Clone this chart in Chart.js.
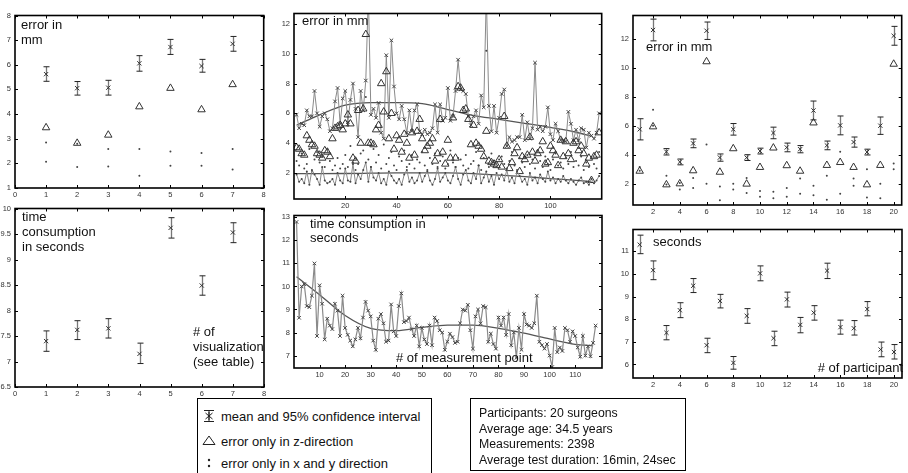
<!DOCTYPE html>
<html lang="en">
<head>
<meta charset="utf-8">
<script src="https://cdn.jsdelivr.net/npm/chart.js@4.4.0/dist/chart.umd.min.js"></script>
<style>
  body { margin:0; width:908px; height:473px; background:#fff; position:relative; overflow:hidden;
         font-family:"Liberation Sans", Arial, sans-serif; }
  canvas { position:absolute; }
  .note { position:absolute; font-size:13px; line-height:15px; color:#111; white-space:nowrap; }
  .box { position:absolute; border:1px solid #000; background:#fff; font-size:12.5px; color:#111; white-space:nowrap; }
  .box .row { position:absolute; left:0; }
  .box svg { position:absolute; }
</style>
</head>
<body>

<canvas id="c1"></canvas>
<canvas id="c2"></canvas>
<canvas id="c3"></canvas>
<canvas id="c4"></canvas>
<canvas id="c5"></canvas>
<canvas id="c6"></canvas>

<div class="note" style="left:21px;top:17px;">error in<br>mm</div>
<div class="note" style="left:22px;top:209px;">time<br>consumption<br>in seconds</div>
<div class="note" style="left:193px;top:324px;"># of<br>visualization<br>(see table)</div>
<div class="note" style="left:302px;top:13px;">error in mm</div>
<div class="note" style="left:310px;top:217px;line-height:14px;">time consumption in<br>seconds</div>
<div class="note" style="left:396px;top:350px;"># of measurement point</div>
<div class="note" style="left:646px;top:39px;">error in mm</div>
<div class="note" style="left:653px;top:234px;">seconds</div>
<div class="note" style="left:800px;top:360px;width:103px;text-align:right;"># of participant</div>

<div class="box" style="left:197px;top:398px;width:233px;height:80px;">
  <svg style="left:4px;top:10px;" width="14" height="14"><path d="M2 1.5H12M2 12.5H12M7 1.5V12.5M3.5 4L10.5 10M10.5 4L3.5 10M7 3V11" stroke="#222" stroke-width="1" fill="none"/></svg>
  <div class="row" style="left:23px;top:10px;font-size:13px;">mean and 95% confidence interval</div>
  <svg style="left:4px;top:35px;" width="14" height="12"><path d="M1 10.5H13L7 2Z" stroke="#222" stroke-width="1" fill="none"/></svg>
  <div class="row" style="left:23px;top:35px;font-size:13px;">error only in z-direction</div>
  <svg style="left:4px;top:57px;" width="14" height="14"><circle cx="7" cy="4" r="1.2" fill="#222"/><circle cx="7" cy="10" r="1.2" fill="#222"/></svg>
  <div class="row" style="left:23px;top:57px;font-size:13px;">error only in x and y direction</div>
</div>

<div class="box" style="left:470px;top:398px;width:214px;height:71px;">
  <div class="row" style="left:8px;top:7px;line-height:15.5px;font-size:12.3px;">Participants: 20 surgeons<br>Average age: 34.5 years<br>Measurements: 2398<br>Average test duration: 16min, 24sec</div>
</div>

<script>
// ---- panel 1 / 2 : per visualization ----
var visNo = [1, 2, 3, 4, 5, 6, 7];
var visErrMean = [5.62, 5.05, 5.07, 6.06, 6.72, 5.95, 6.85];
var visErrLo   = [5.33, 4.77, 4.77, 5.74, 6.42, 5.70, 6.55];
var visErrHi   = [5.92, 5.32, 5.37, 6.37, 7.03, 6.22, 7.15];
var visErrZ    = [3.45, 2.82, 3.15, 4.30, 5.05, 4.18, 5.20];
var visErrX    = [2.85, 2.80, 2.58, 2.58, 2.48, 2.42, 2.58];
var visErrY    = [2.07, 1.85, 1.87, 1.50, 1.90, 1.90, 1.75];
var visTimeMean = [7.40, 7.62, 7.65, 7.15, 9.62, 8.49, 9.53];
var visTimeLo   = [7.20, 7.43, 7.46, 6.96, 9.42, 8.30, 9.33];
var visTimeHi   = [7.60, 7.80, 7.84, 7.36, 9.82, 8.68, 9.72];

// ---- panel 3 / 4 : per measurement point ----
var measErrMean = [5.9,5.0,5.3,5.2,6.2,5.8,5.8,7.5,6.0,5.1,
  5.8,6.0,5.6,4.8,5.0,6.8,7.7,5.3,7.0,7.5,
  5.4,6.9,8.0,6.3,4.4,7.5,6.2,8.2,14.0,5.9,
  6.3,5.7,6.7,4.7,4.3,9.9,5.7,10.9,7.8,6.0,
  5.6,6.5,5.6,4.7,6.2,4.8,6.2,6.6,4.8,4.6,
  4.9,4.6,4.7,5.0,6.6,4.7,6.6,5.5,5.7,7.7,
  5.5,5.8,7.5,9.6,7.6,7.5,7.3,5.8,5.2,5.8,
  6.2,5.3,7.2,6.4,14.0,6.5,4.8,6.5,4.7,5.7,
  7.3,7.6,3.8,4.4,4.1,4.2,4.4,4.4,5.9,4.2,
  5.4,4.3,5.0,9.4,4.9,5.1,4.8,5.1,6.4,4.6,
  4.2,5.3,4.8,4.2,4.2,4.1,6.1,5.3,4.2,4.9,
  4.2,5.0,4.9,3.7,4.7,4.5,4.3,4.7,6.0];
var measErrZ = [3.7,3.6,3.3,3.2,4.5,4.2,3.9,3.8,3.3,3.2,
  3.0,3.5,3.4,3.1,4.3,5.0,5.1,5.2,4.9,5.3,
  5.9,5.3,3.0,2.8,6.2,4.0,6.3,11.3,4.0,4.0,
  3.9,4.9,5.2,8.0,6.1,8.8,4.3,6.0,3.6,4.5,
  4.2,3.4,4.6,4.0,3.0,4.7,3.2,4.8,5.6,4.3,
  3.5,3.8,4.0,4.3,2.8,3.3,5.6,3.4,2.6,4.2,
  3.0,5.7,3.0,7.8,7.7,6.2,6.3,5.6,3.9,5.2,
  4.0,3.8,3.6,3.1,4.8,2.8,2.7,2.6,2.5,2.9,
  2.4,5.8,3.8,2.3,2.7,3.3,3.7,2.1,3.1,2.9,
  3.2,4.4,3.4,2.8,3.3,3.5,4.1,2.6,2.7,3.8,
  3.5,3.2,2.5,4.2,3.1,4.1,3.3,2.9,4.0,4.1,
  3.5,3.8,3.3,2.6,3.0,1.5,3.1,3.2,4.7];
var measErrX = [2.8,2.5,3.3,2.3,2.6,3.6,2.1,2.9,3.4,2.7,
  3.1,2.4,3.6,2.8,2.2,2.5,3.0,2.3,2.6,3.2,
  2.4,3.8,2.7,2.2,2.6,3.3,3.5,7.1,2.9,2.4,
  3.6,2.7,3.2,2.3,3.9,2.6,3.0,3.4,2.5,2.2,
  3.1,2.8,3.5,2.4,2.6,3.2,2.3,2.9,2.7,3.4,
  2.5,2.2,3.0,2.6,3.3,2.4,2.8,3.1,2.3,2.6,
  3.5,2.7,2.4,3.0,2.9,2.5,3.2,2.3,2.6,2.8,
  3.4,2.5,2.2,3.0,10.2,2.4,3.3,2.7,2.4,2.9,
  3.1,2.6,2.3,2.8,3.4,2.5,2.2,3.0,2.7,2.4,
  3.2,2.6,2.9,2.3,3.5,2.8,2.4,3.1,2.6,2.2,
  2.9,3.3,2.5,2.7,2.3,3.0,2.6,3.4,2.4,2.8,
  2.5,3.1,2.2,2.7,2.4,3.0,2.6,2.3,3.4];
var measErrY = [1.9,1.4,1.6,1.3,2.1,1.2,2.2,1.9,1.6,1.2,
  2.4,1.5,1.3,1.4,1.6,1.2,2.0,1.5,1.3,2.3,
  1.5,1.4,2.6,1.3,1.9,1.6,2.2,2.7,1.4,2.4,
  1.7,1.5,2.0,1.3,1.6,1.2,2.1,1.8,1.5,1.3,
  1.6,1.2,1.9,2.2,1.4,1.7,1.3,1.5,2.0,1.4,
  1.8,2.1,1.5,1.2,1.6,2.3,1.4,1.7,2.0,1.5,
  1.3,1.8,2.4,1.6,1.2,1.9,2.2,1.5,1.3,2.0,
  1.6,2.5,1.3,1.7,2.1,1.4,1.8,1.2,2.0,1.6,
  1.9,1.5,2.2,1.4,1.7,1.3,2.1,1.8,1.4,1.6,
  1.2,2.0,1.5,1.7,1.3,1.9,1.6,1.4,2.1,1.5,
  1.7,1.3,1.6,1.4,1.8,1.5,1.3,1.6,1.4,1.2,
  1.5,1.7,1.3,1.4,1.2,1.6,1.3,1.5,1.8];
var trendX = [1, 10, 20, 30, 40, 50, 60, 70, 80, 90, 100, 110, 116];
var trendErrMean = [5.2, 5.9, 6.55, 6.72, 6.72, 6.65, 6.25, 5.85, 5.6, 5.33, 5.05, 4.73, 4.45];
var trendErrY    = [1.95, 1.95, 1.96, 1.98, 2.0, 2.0, 2.0, 1.95, 1.85, 1.75, 1.62, 1.5, 1.42];

var measTime = [12.8,8.64,10.0,10.1,9.15,9.1,9.6,11.0,7.85,10.05,
  9.25,7.7,8.6,8.3,8.15,9.25,8.95,7.85,9.6,8.2,
  7.9,7.65,7.4,7.7,8.2,7.75,8.65,9.33,8.95,8.7,
  7.65,7.25,8.6,8.8,8.4,7.6,7.65,9.22,8.05,7.85,
  9.15,9.7,8.45,8.5,8.65,8.15,7.85,8.3,7.4,8.2,
  7.7,7.5,8.3,7.45,8.65,8.5,8.1,8.0,7.25,7.6,
  7.95,7.8,7.55,7.6,8.4,9.0,8.95,9.2,8.1,7.3,
  8.7,9.0,8.4,9.15,9.1,7.6,7.95,7.5,7.3,8.65,
  8.3,8.65,7.9,8.8,7.45,8.0,6.9,8.2,7.25,8.8,
  8.35,8.3,8.2,8.4,9.6,7.6,7.45,7.3,7.5,7.0,
  6.5,8.2,7.15,7.35,7.2,8.2,8.1,7.6,8.05,7.85,
  7.35,6.95,7.85,7.0,7.4,6.97,7.55,8.3];
var trendTimeX = [1, 10, 20, 30, 40, 50, 60, 70, 80, 90, 100, 110, 117];
var trendTime  = [10.42, 9.64, 8.74, 8.18, 8.08, 8.22, 8.32, 8.32, 8.18, 7.97, 7.72, 7.49, 7.42];

// ---- panel 5 / 6 : per participant ----
var partNo = [1,2,3,4,5,6,7,8,9,10,11,12,13,14,15,16,17,18,19,20];
var partErrMean = [5.75,12.6,4.2,3.5,4.78,12.55,3.8,5.75,3.8,4.25,5.5,4.5,4.38,7.05,4.64,6.02,4.87,4.18,6.0,12.2];
var partErrCI   = [0.73,0.75,0.22,0.2,0.3,0.6,0.25,0.4,0.2,0.2,0.4,0.3,0.25,0.65,0.3,0.65,0.35,0.2,0.6,0.65];
var partErrZ    = [2.87,5.93,1.93,2.0,2.9,10.42,2.8,4.42,1.98,3.13,4.47,3.25,2.87,6.2,3.27,3.47,3.13,1.93,3.27,10.25];
var partErrX    = [3.15,7.1,2.55,2.05,2.4,4.7,1.8,2.0,2.4,1.5,1.45,1.7,2.35,1.85,2.55,4.2,2.35,3.0,2.0,3.4];
var partErrY    = [2.9,6.0,1.95,1.6,1.7,2.0,0.85,1.6,1.35,1.1,1.0,1.1,1.3,1.2,0.9,1.3,1.85,1.05,1.0,3.0];
var partTimeMean = [11.3,10.17,7.4,8.4,9.48,6.85,8.81,6.07,8.15,10.03,7.16,8.88,7.75,8.29,10.15,7.65,7.6,8.45,6.66,6.55];
var partTimeLo   = [10.9,9.75,7.09,8.07,9.18,6.52,8.5,5.79,7.82,9.7,6.83,8.54,7.4,7.96,9.8,7.34,7.3,8.15,6.34,6.24];
var partTimeHi   = [11.72,10.58,7.72,8.73,9.8,7.16,9.1,6.35,8.47,10.36,7.47,9.2,8.08,8.6,10.48,7.96,7.94,8.78,6.99,6.88];

var measNo = measErrMean.map(function (v, i) { return i + 1; });
var measTimeNo = measTime.map(function (v, i) { return i + 1; });

function pts(xs, ys) {
  return ys.map(function (v, i) { return { x: xs[i], y: v }; });
}

// frame round the plot with matlab style inner ticks
var frameTicks = {
  id: 'frameTicks',
  afterDatasetsDraw: function (chart) {
    var ctx = chart.ctx, a = chart.chartArea, x = chart.scales.x, y = chart.scales.y;
    ctx.save();
    ctx.strokeStyle = '#000';
    ctx.lineWidth = 1;
    ctx.beginPath();
    x.ticks.forEach(function (t) {
      var px = Math.round(x.getPixelForValue(t.value)) + 0.5;
      ctx.moveTo(px, a.bottom); ctx.lineTo(px, a.bottom - 3);
      ctx.moveTo(px, a.top); ctx.lineTo(px, a.top + 3);
    });
    y.ticks.forEach(function (t) {
      var py = Math.round(y.getPixelForValue(t.value)) + 0.5;
      ctx.moveTo(a.left, py); ctx.lineTo(a.left + 3, py);
      ctx.moveTo(a.right, py); ctx.lineTo(a.right - 3, py);
    });
    ctx.stroke();
    ctx.lineWidth = 1.6;
    ctx.strokeRect(a.left, a.top, a.right - a.left, a.bottom - a.top);
    ctx.restore();
  }
};

// confidence intervals: errLo / errHi on the dataset
var errBars = {
  id: 'errBars',
  beforeDatasetsDraw: function (chart) {
    var ctx = chart.ctx, a = chart.chartArea, x = chart.scales.x, y = chart.scales.y;
    ctx.save();
    ctx.beginPath();
    ctx.rect(a.left, a.top, a.right - a.left, a.bottom - a.top);
    ctx.clip();
    chart.data.datasets.forEach(function (ds) {
      if (!ds.errLo) return;
      ds.data.forEach(function (p, i) {
        var px = Math.round(x.getPixelForValue(p.x)) + 0.5;
        var y1 = y.getPixelForValue(ds.errLo[i]);
        var y2 = y.getPixelForValue(ds.errHi[i]);
        ctx.strokeStyle = '#777';
        ctx.lineWidth = 1.3;
        ctx.beginPath();
        ctx.moveTo(px, y1); ctx.lineTo(px, y2);
        ctx.stroke();
        ctx.strokeStyle = '#222';
        ctx.lineWidth = 1;
        ctx.beginPath();
        ctx.moveTo(px - 3, y1); ctx.lineTo(px + 3, y1);
        ctx.moveTo(px - 3, y2); ctx.lineTo(px + 3, y2);
        ctx.stroke();
      });
    });
    ctx.restore();
  }
};

function tickLabel(v) { return String(+Number(v).toFixed(2)); }

function makePanel(id, f, lm, xs, ys, datasets) {
  var cv = document.getElementById(id);
  var w = (f.r - f.l) + lm + 2, h = (f.b - f.t) + 2 + 12;
  cv.width = w; cv.height = h;
  cv.style.left = (f.l - lm) + 'px';
  cv.style.top = (f.t - 2) + 'px';
  cv.style.width = w + 'px';
  cv.style.height = h + 'px';
  var tickFont = { family: '"Liberation Sans", Arial, sans-serif', size: 7.5 };
  var keep = function (lo, hi) {
    return function (s) { s.ticks = s.ticks.filter(function (t) { return t.value > lo && t.value < hi; }); };
  };
  return new Chart(cv.getContext('2d'), {
    type: 'scatter',
    data: { datasets: datasets },
    options: {
      responsive: false,
      animation: false,
      events: [],
      layout: { padding: { top: 2, right: 2, left: 0, bottom: 0 } },
      plugins: { legend: { display: false }, tooltip: { enabled: false } },
      scales: {
        x: {
          type: 'linear', min: xs.min, max: xs.max,
          grid: { display: false, drawTicks: false },
          border: { display: false },
          ticks: { stepSize: xs.step, font: tickFont, color: '#333', padding: 2, maxRotation: 0, autoSkip: false,
                   includeBounds: false, callback: tickLabel },
          afterBuildTicks: xs.keep ? keep(xs.keep[0], xs.keep[1]) : undefined,
          afterFit: function (s) { s.height = 12; }
        },
        y: {
          type: 'linear', min: ys.min, max: ys.max,
          grid: { display: false, drawTicks: false },
          border: { display: false },
          ticks: { stepSize: ys.step, font: tickFont, color: '#333', padding: 4, autoSkip: false,
                   includeBounds: false, callback: tickLabel },
          afterFit: function (s) { s.width = lm; }
        }
      }
    },
    plugins: [errBars, frameTicks]
  });
}

function meanSet(xs, ys, lo, hi, style) {
  return { data: pts(xs, ys), errLo: lo, errHi: hi, pointStyle: style || 'star', pointRadius: 3,
           borderColor: '#333', backgroundColor: '#333', pointBorderWidth: 1, showLine: false };
}
function triSet(xs, ys) {
  return { data: pts(xs, ys), pointStyle: 'triangle', pointRadius: 4.3, borderColor: '#333',
           backgroundColor: 'rgba(255,255,255,0)', pointBorderWidth: 1, showLine: false };
}
function dotSet(xs, ys) {
  return { data: pts(xs, ys), pointStyle: 'circle', pointRadius: 1, borderColor: '#444',
           backgroundColor: '#444', pointBorderWidth: 0, showLine: false };
}
function trendSet(xs, ys) {
  return { data: pts(xs, ys), showLine: true, pointRadius: 0, borderColor: '#555', borderWidth: 1.3,
           cubicInterpolationMode: 'monotone', fill: false };
}

var partLo = partErrMean.map(function (v, i) { return v - partErrCI[i]; });
var partHi = partErrMean.map(function (v, i) { return v + partErrCI[i]; });

makePanel('c1', { l: 15, t: 9, r: 267, b: 188 }, 15,
  { min: 0, max: 8, step: 1 }, { min: 1, max: 8, step: 1 },
  [meanSet(visNo, visErrMean, visErrLo, visErrHi, 'crossRot'), triSet(visNo, visErrZ), dotSet(visNo, visErrX), dotSet(visNo, visErrY)]);

makePanel('c2', { l: 15, t: 202, r: 267, b: 387 }, 15,
  { min: 0, max: 8, step: 1 }, { min: 6.5, max: 10, step: 0.5 },
  [meanSet(visNo, visTimeMean, visTimeLo, visTimeHi, 'crossRot')]);

makePanel('c3', { l: 294, t: 7, r: 605, b: 199 }, 16,
  { min: 0, max: 120, step: 20, keep: [1, 119] }, { min: 0.25, max: 12.7, step: 2 },
  [
    { data: pts(measNo, measErrY), showLine: true, borderColor: '#8a8a8a', borderWidth: 1,
      pointStyle: 'circle', pointRadius: 1, pointBackgroundColor: '#444', pointBorderWidth: 0 },
    dotSet(measNo, measErrX),
    triSet(measNo, measErrZ),
    { data: pts(measNo, measErrMean), showLine: true, borderColor: '#8a8a8a', borderWidth: 1,
      pointStyle: 'crossRot', pointRadius: 2.5, pointBorderColor: '#444', pointBorderWidth: 1 },
    trendSet(trendX, trendErrMean),
    trendSet(trendX, trendErrY)
  ]);

makePanel('c4', { l: 294, t: 209, r: 605, b: 368 }, 16,
  { min: 0, max: 120.5, step: 10, keep: [1, 119] }, { min: 6.46, max: 13.08, step: 1 },
  [
    { data: pts(measTimeNo, measTime), showLine: true, borderColor: '#8a8a8a', borderWidth: 1.2,
      pointStyle: 'crossRot', pointRadius: 2.5, pointBorderColor: '#444', pointBorderWidth: 1 },
    trendSet(trendTimeX, trendTime)
  ]);

makePanel('c5', { l: 633, t: 9, r: 905, b: 205 }, 22,
  { min: 0.5, max: 20.6, step: 2 }, { min: 0.53, max: 13.6, step: 2 },
  [meanSet(partNo, partErrMean, partLo, partHi, 'crossRot'), triSet(partNo, partErrZ), dotSet(partNo, partErrX), dotSet(partNo, partErrY)]);

makePanel('c6', { l: 633, t: 223, r: 905, b: 378 }, 22,
  { min: 0.5, max: 20.6, step: 2 }, { min: 5.4, max: 11.97, step: 1 },
  [meanSet(partNo, partTimeMean, partTimeLo, partTimeHi, 'crossRot')]);
</script>
</body>
</html>
